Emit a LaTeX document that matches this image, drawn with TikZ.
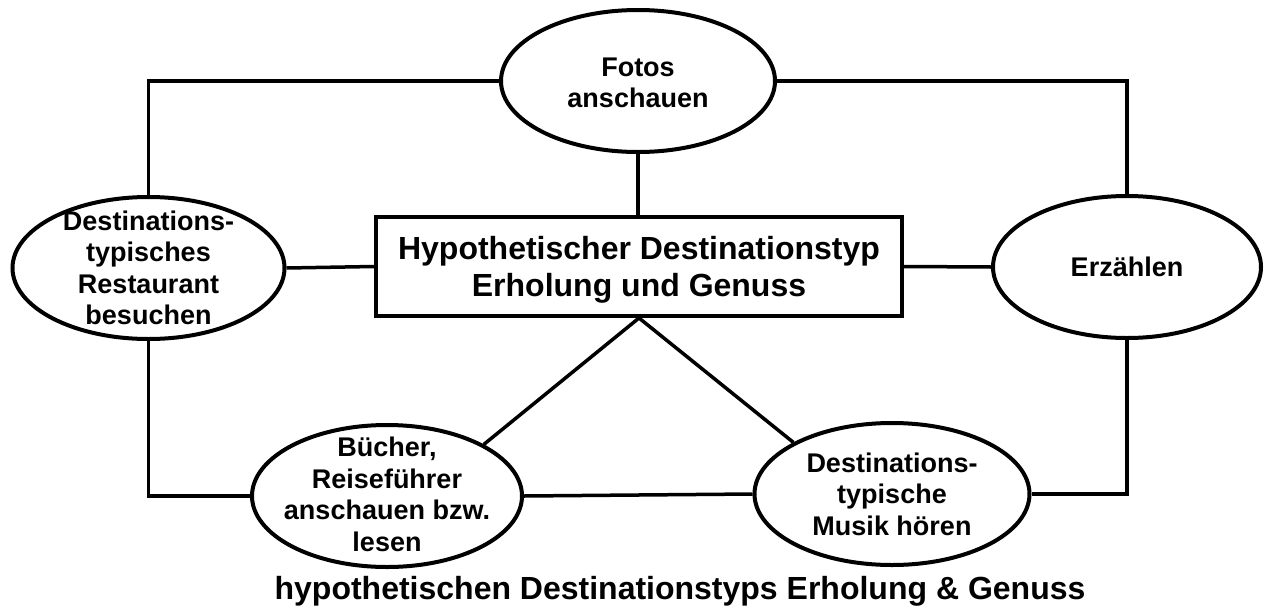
\documentclass[tikz,border=0pt]{standalone}
\usepackage{fontspec}
\setmainfont{Liberation Sans}
\usetikzlibrary{shapes.geometric}
\begin{document}
\begin{tikzpicture}[x=1pt,y=-1pt,
  bubble/.style={ellipse, draw, line width=4pt, inner sep=0pt,
    minimum height=142pt, minimum width=#1},
  bubbletext/.style={align=center, inner sep=0pt,
    font=\fontsize{27}{31.5}\selectfont\bfseries},
  typebox/.style={rectangle, draw, line width=4pt, inner sep=0pt,
    minimum width=526pt, minimum height=99pt},
  typetext/.style={align=center, inner sep=0pt,
    font=\fontsize{32}{37}\selectfont\bfseries},
  captiontext/.style={inner sep=0pt, font=\fontsize{32}{37}\selectfont\bfseries},
  link/.style={line width=3.5pt}
]
\useasboundingbox (0,0) rectangle (1264,608);

% central box
\node[typebox] (hyp) at (639,266.5) {};
\node[typetext] (hypT) at (639,270) {Hypothetischer Destinationstyp\\Erholung und Genuss};

% activity ellipses
\node[bubble=274pt] (foto) at (638,81) {};
\node[bubbletext] (fotoT) at (638,83) {Fotos\\anschauen};

\node[bubble=272pt] (rest) at (148.5,268) {};
\node[bubbletext] (restT) at (148.5,268) {Destinations-\\typisches\\Restaurant\\besuchen};

\node[bubble=268pt] (erz) at (1127,267) {};
\node[bubbletext] (erzT) at (1127,267) {Erzählen};

\node[bubble=270pt] (bl) at (387,496) {};
\node[bubbletext] (blT) at (387,494.5) {Bücher,\\Reiseführer\\anschauen bzw.\\lesen};

\node[bubble=275pt] (br) at (892,494) {};
\node[bubbletext] (brT) at (892,494) {Destinations-\\typische\\Musik hören};

% connectors
\draw[link] (foto.west) -| (rest.north);
\draw[link] (foto.east) -| (erz.north);
\draw[link] (foto.south) -- (foto.south |- hyp.north);
\draw[link] (rest.east) -- (hyp.west);
\draw[link] (hyp.east) -- (erz.west);
\draw[link] (rest.south) |- (bl.west);
\draw[link] (erz.south) |- (br.east);
\draw[link] (bl.east) -- (br.west);
\draw[link] (bl.north east) -- (hyp.south) -- (br.north west);

% caption
\node[captiontext, anchor=base] (cap) at (680,599)
  {hypothetischen Destinationstyps Erholung \& Genuss};
\end{tikzpicture}
\end{document}
